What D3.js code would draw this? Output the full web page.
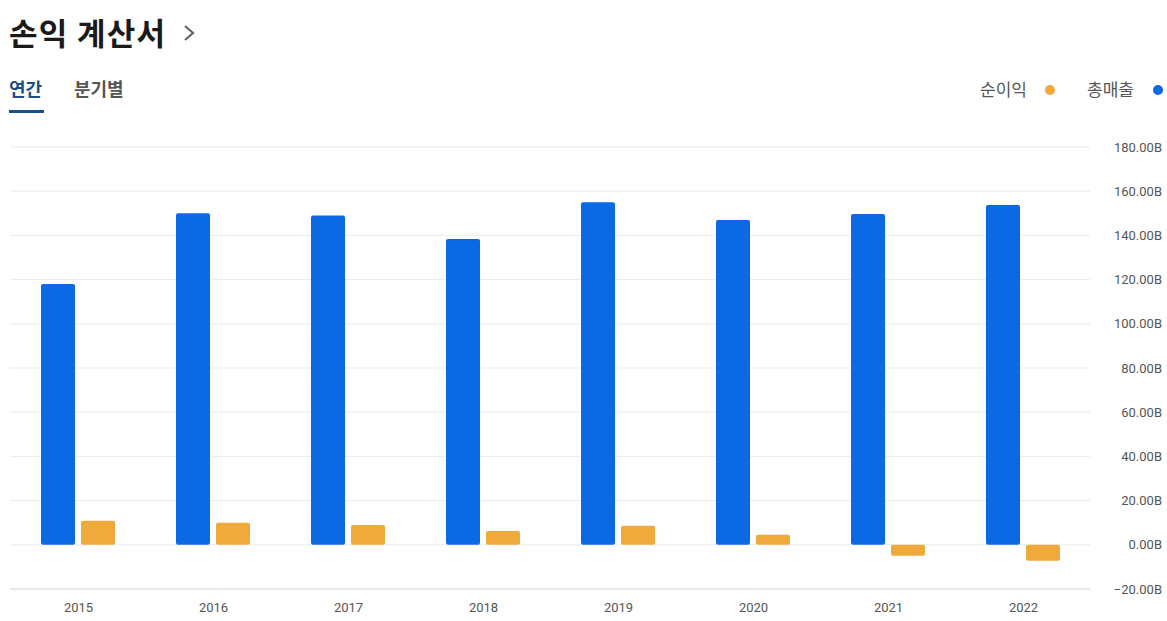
<!DOCTYPE html>
<html><head><meta charset="utf-8">
<script src="https://cdn.jsdelivr.net/npm/d3@7"></script>
<style>
body{margin:0;background:#fff;font-family:"Noto Sans CJK KR","Noto Sans",sans-serif;}
</style></head>
<body><div id="chart"></div>
<script>
// values in billions
const years = ["2015","2016","2017","2018","2019","2020","2021","2022"];
const revenue = [118, 150, 149, 138.4, 155, 147, 149.7, 153.8];
const netIncome = [10.9, 10, 9, 6.3, 8.6, 4.5, -5, -7.2];
const yTicks = [-20, 0, 20, 40, 60, 80, 100, 120, 140, 160, 180];

const width = 1167, height = 621;
const svg = d3.select("#chart").append("svg")
  .attr("width", width).attr("height", height);

// header
svg.append("text").attr("x", 9).attr("y", 45)
  .attr("font-size", 31).attr("font-weight", 700).attr("fill", "#1a1a1a")
  .attr("textLength", 156).attr("lengthAdjust", "spacing")
  .text("손익 계산서");
svg.append("path").attr("d", "M185,26 L193,33 L185,40")
  .attr("fill", "none").attr("stroke", "#666").attr("stroke-width", 2.2);

svg.append("text").attr("x", 9).attr("y", 96)
  .attr("font-size", 18).attr("font-weight", 700).attr("fill", "#1b4f8a").text("연간");
svg.append("rect").attr("x", 9).attr("y", 110).attr("width", 35).attr("height", 3).attr("fill", "#1b4f8a");
svg.append("text").attr("x", 74).attr("y", 96)
  .attr("font-size", 18).attr("font-weight", 700).attr("fill", "#555").text("분기별");

// legend
const legend = [["순이익", "#f0a93b", 980, 1050], ["총매출", "#0b69e3", 1087, 1158]];
legend.forEach(([t, c, x, cx]) => {
  svg.append("text").attr("x", x).attr("y", 96).attr("font-size", 17).attr("fill", "#555").text(t);
  svg.append("circle").attr("cx", cx).attr("cy", 90).attr("r", 5).attr("fill", c);
});

const x = d3.scaleBand().domain(years).range([10, 1090]).paddingInner(0).paddingOuter(0);
const y = d3.scaleLinear().domain([-20, 180]).range([589, 147]);

// grid
svg.append("g").selectAll("line").data(yTicks).join("line")
  .attr("x1", 10).attr("x2", 1090)
  .attr("y1", d => y(d)).attr("y2", d => y(d))
  .attr("stroke", d => d === -20 ? "#d0d0d0" : "#ebebeb").attr("stroke-width", 1);

svg.append("g").selectAll("text").data(yTicks).join("text")
  .attr("x", 1162).attr("y", d => y(d)).attr("dy", "0.35em")
  .attr("text-anchor", "end").attr("font-size", 13).attr("fill", "#555")
  .attr("font-family", "Roboto, sans-serif")
  .text(d => d3.format(".2f")(d) + "B");

svg.append("g").selectAll("text").data(years).join("text")
  .attr("x", d => x(d) + x.bandwidth() / 2 + 1).attr("y", 612)
  .attr("text-anchor", "middle").attr("font-size", 13).attr("fill", "#555")
  .attr("font-family", "Roboto, sans-serif")
  .text(d => d);

const bw = 34;
svg.append("g").selectAll("rect").data(years).join("rect")
  .attr("x", d => x(d) + 31)
  .attr("y", (d, i) => y(revenue[i]))
  .attr("width", bw)
  .attr("height", (d, i) => y(0) - y(revenue[i]))
  .attr("rx", 2).attr("fill", "#0b69e3");

svg.append("g").selectAll("rect").data(years).join("rect")
  .attr("x", d => x(d) + 71)
  .attr("y", (d, i) => y(Math.max(0, netIncome[i])))
  .attr("width", bw)
  .attr("height", (d, i) => Math.abs(y(netIncome[i]) - y(0)))
  .attr("rx", 2).attr("fill", "#f0a93b");
</script>
</body></html>
